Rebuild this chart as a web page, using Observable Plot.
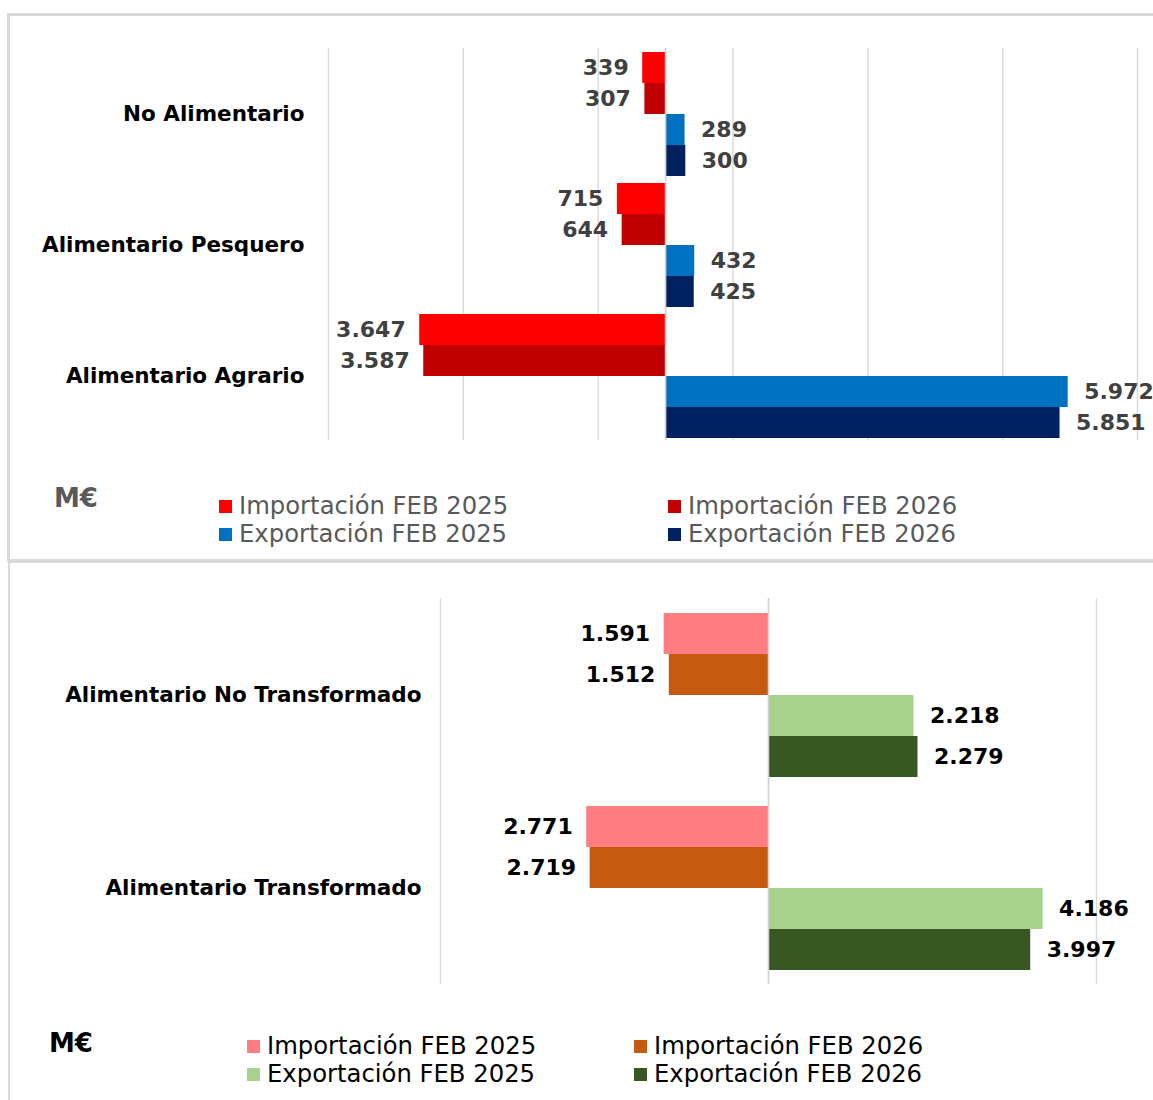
<!DOCTYPE html>
<html><head><meta charset="utf-8">
<script src="https://cdn.jsdelivr.net/npm/d3@7"></script>
<script src="https://cdn.jsdelivr.net/npm/@observablehq/plot@0.6"></script>
<style>
body{margin:0;background:#fff;font-family:"DejaVu Sans",Verdana,sans-serif;}
#root{position:relative;width:1153px;height:1100px;overflow:hidden;background:#fff;}
.box{position:absolute;box-sizing:border-box;}
.plot{position:absolute;left:0;}
.leg{position:absolute;height:26px;line-height:26px;font-size:24.3px;white-space:nowrap;display:flex;align-items:center;}
.sw{display:inline-block;width:13px;height:13px;margin-right:7px;}
.unit{position:absolute;font-weight:bold;font-size:26px;line-height:30px;}
</style></head><body><div id="root"></div>
<script>
// ---- data ----
const seriesNames = ["Importación FEB 2025","Importación FEB 2026","Exportación FEB 2025","Exportación FEB 2026"];

const topCategories = ["No Alimentario","Alimentario Pesquero","Alimentario Agrario"];
const topImport2025 = [339, 715, 3647];
const topImport2026 = [307, 644, 3587];
const topExport2025 = [289, 432, 5972];
const topExport2026 = [300, 425, 5851];
const topColors = ["#FF0000","#C00000","#0070C0","#002060"];
const topGrid = [-5000,-3000,-1000,1000,3000,5000,7000];

const bottomCategories = ["Alimentario No Transformado","Alimentario Transformado"];
const bottomImport2025 = [1591, 2771];
const bottomImport2026 = [1512, 2719];
const bottomExport2025 = [2218, 4186];
const bottomExport2026 = [2279, 3997];
const bottomColors = ["#FF7C80","#C55A11","#A9D18E","#385723"];
const bottomGrid = [-5000, 5000];

const unitLabel = "M€";

// ---- build ----
const fmt = d3.formatLocale({decimal:",", thousands:".", grouping:[3], currency:["","€"]}).format(",d");

function buildRows(cats, i25, i26, e25, e26){
  const rows = [];
  cats.forEach((c,i)=>{
    rows.push({cat:c, series:seriesNames[0], value:-i25[i]});
    rows.push({cat:c, series:seriesNames[1], value:-i26[i]});
    rows.push({cat:c, series:seriesNames[2], value:e25[i]});
    rows.push({cat:c, series:seriesNames[3], value:e26[i]});
  });
  return rows;
}

const baseStyle = {fontFamily:"'DejaVu Sans', Verdana, sans-serif", background:"transparent", overflow:"visible"};

function rulePlot(o, values, stroke, sw){
  return Plot.plot({
    width:1153, height:o.height,
    marginLeft:o.marginLeft, marginRight:o.marginRight, marginTop:o.marginTop, marginBottom:o.marginBottom,
    style:baseStyle,
    x:{domain:o.domain, axis:null},
    marks:[Plot.ruleX(values, {stroke, strokeWidth:sw})]
  });
}

function chart(o){
  const rows = o.rows;
  return Plot.plot({
    width:1153, height:o.height,
    marginLeft:o.marginLeft, marginRight:o.marginRight, marginTop:o.marginTop, marginBottom:o.marginBottom,
    style:baseStyle,
    x:{domain:o.domain, axis:null},
    y:{domain:seriesNames, axis:null, padding:0},
    fy:{domain:o.categories, paddingInner:o.padInner, paddingOuter:o.padOuter, label:null},
    color:{domain:seriesNames, range:o.colors},
    marks:[
      Plot.barX(rows, {fy:"cat", y:"series", x:"value", fill:"series"}),
      Plot.text(rows.filter(d=>d.value<0), {fy:"cat", y:"series", x:"value", text:d=>fmt(-d.value),
        textAnchor:"end", dx:-14, fontSize:22, fontWeight:"bold", fill:o.labelColor}),
      Plot.text(rows.filter(d=>d.value>0), {fy:"cat", y:"series", x:"value", text:d=>fmt(d.value),
        textAnchor:"start", dx:16, fontSize:22, fontWeight:"bold", fill:o.labelColor}),
      Plot.axisFy({anchor:"left", tickSize:0, tickPadding:o.tickPadding, fontSize:21.5, fontWeight:"bold", fill:"#000", label:null})
    ]
  });
}

const root = document.getElementById("root");

// panel frames
const f1 = document.createElement("div");
f1.className="box";
Object.assign(f1.style,{left:"7px",top:"13px",width:"1160px",height:"549px",border:"3px solid #d9d9d9"});
root.appendChild(f1);
const f2 = document.createElement("div");
f2.className="box";
Object.assign(f2.style,{left:"8px",top:"561px",width:"1160px",height:"560px",borderLeft:"2px solid #d9d9d9",borderTop:"2px solid #d9d9d9"});
root.appendChild(f2);

function place(svg, top){
  const w = document.createElement("div"); w.className="plot"; w.style.top=top+"px"; w.appendChild(svg); root.appendChild(w);
}

// top chart
const o1 = {
  rows: buildRows(topCategories, topImport2025, topImport2026, topExport2025, topExport2026),
  categories: topCategories, colors: topColors, domain:[-5000,7000],
  height:460, marginLeft:328, marginRight:16, marginTop:48, marginBottom:20,
  padInner:0.046, padOuter:0.015, tickPadding:24, labelColor:"#404040"
};
place(rulePlot(o1, topGrid, "#d9d9d9", 1.4), 0);
place(chart(o1), 0);
place(rulePlot(o1, [0], "#d0d0d0", 1.6), 0);

// bottom chart
const o2 = {
  rows: buildRows(bottomCategories, bottomImport2025, bottomImport2026, bottomExport2025, bottomExport2026),
  categories: bottomCategories, colors: bottomColors, domain:[-5000,5000],
  height:440, marginLeft:440, marginRight:57, marginTop:38, marginBottom:16,
  padInner:0.135, padOuter:0.067, tickPadding:19, labelColor:"#000"
};
place(rulePlot(o2, bottomGrid, "#d9d9d9", 1.4), 560);
place(chart(o2), 560);
place(rulePlot(o2, [0], "#d0d0d0", 1.6), 560);

// legends
function legend(colors, color, pos){
  seriesNames.forEach((s,i)=>{
    const d = document.createElement("div");
    d.className="leg";
    d.style.left = pos.x[i%2]+"px";
    d.style.top = (pos.y[i<2 ? 0 : 1] - 13)+"px";
    d.style.color = color;
    const sw = document.createElement("span"); sw.className="sw"; sw.style.background = colors[i];
    d.appendChild(sw);
    d.appendChild(document.createTextNode(s));
    root.appendChild(d);
  });
}
legend(topColors, "#595959", {x:[219,668], y:[506,534]});
legend(bottomColors, "#000", {x:[247,634], y:[1046,1074]});

function unit(x,y,color){
  const u=document.createElement("div"); u.className="unit"; u.textContent=unitLabel;
  u.style.left=x+"px"; u.style.top=(y-15)+"px"; u.style.color=color; root.appendChild(u);
}
unit(54,498,"#595959");
unit(49,1043,"#000");
</script>
</body></html>
